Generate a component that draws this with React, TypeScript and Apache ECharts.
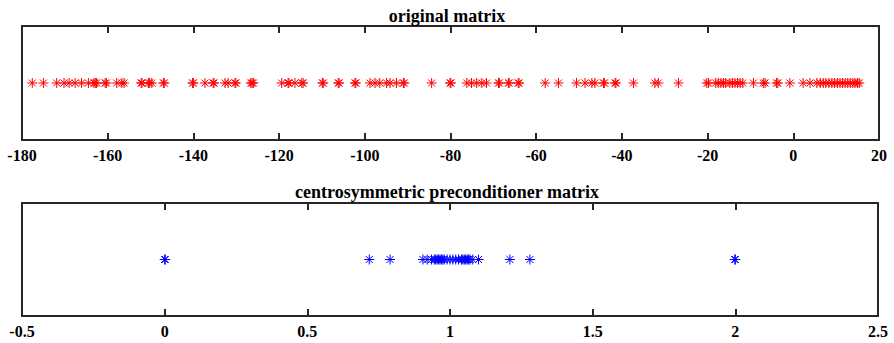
import React, { useEffect, useRef } from "react";
import * as echarts from "echarts";

const topTitle = "original matrix";
const bottomTitle = "centrosymmetric preconditioner matrix";

const originalEigs = [
  -177.6, -175.0, -171.9, -170.2, -169.0, -167.6, -166.1, -164.5, -163.2, -162.9, -162.6, -160.6, -160.3,
  -157.9, -156.7, -156.2, -152.2, -152.0, -150.5, -150.2, -149.7, -147.0, -146.8, -140.2, -140.0, -137.3,
  -135.4, -135.2, -132.6, -131.9, -130.3, -130.1, -126.6, -126.3, -126.0, -119.4, -117.9, -117.7, -116.3,
  -114.7, -114.4, -109.9, -109.7, -106.2, -106.0, -102.3, -102.1, -98.8, -97.6, -96.5, -94.9, -94.1, -92.6,
  -91.0, -90.8, -84.4, -80.1, -79.9, -76.2, -75.1, -73.9, -72.7, -71.6, -68.8, -68.6, -66.5, -66.3, -64.2,
  -64.0, -57.9, -54.8, -50.6, -48.6, -47.0, -46.3, -44.3, -44.1, -41.6, -41.4, -37.3, -32.3, -31.5, -26.8,
  -20.2, -19.8, -18.1, -17.5, -16.9, -16.3, -15.8, -14.8, -14.2, -13.6, -13.0, -12.4, -11.8, -9.3, -7.0,
  -6.6, -3.9, -3.6, -0.8, 2.3, 3.9, 5.5, 6.3, 7.0, 7.6, 8.3, 9.0, 9.6, 10.3, 10.9, 11.5, 12.1, 12.7, 13.3,
  13.9, 14.4, 15.0, 15.4,
];

const precondEigs = [
  0.0, 0.002, 0.717, 0.79, 0.905, 0.92, 0.935, 0.945, 0.95, 0.955, 0.96, 0.965, 0.97, 0.975, 0.98, 0.99,
  1.0, 1.01, 1.02, 1.03, 1.04, 1.045, 1.05, 1.055, 1.06, 1.065, 1.07, 1.08, 1.1, 1.21, 1.28, 1.998, 2.0,
];

const topXMin = -180;
const topXMax = 20;
const topXStep = 20;
const bottomXMin = -0.5;
const bottomXMax = 2.5;
const bottomXStep = 0.5;

const asterisk = "path://M0,5L10,5M5,0L5,10M1.5,1.5L8.5,8.5M1.5,8.5L8.5,1.5";
const axisColor = "#262626";
const font = "'Liberation Serif', 'Times New Roman', serif";

export default function App() {
  const ref = useRef<HTMLDivElement>(null);

  useEffect(() => {
    if (!ref.current) return;
    const chart = echarts.init(ref.current, undefined, { renderer: "svg" });

    const mkX = (gridIndex: number, min: number, max: number, interval: number, position: "top" | "bottom") => ({
      type: "value",
      gridIndex,
      min,
      max,
      interval,
      position,
      axisLine: { show: true, onZero: false, lineStyle: { color: axisColor, width: 2 } },
      splitLine: { show: false },
      axisTick: { show: true, inside: true, length: 7, lineStyle: { color: axisColor, width: 2 } },
      axisLabel: {
        show: position === "bottom",
        color: "#000",
        fontFamily: font,
        fontWeight: "bold",
        fontSize: 16,
        margin: 7,
        showMinLabel: true,
        showMaxLabel: true,
      },
    });

    const mkY = (gridIndex: number, position: "left" | "right") => ({
      type: "value",
      gridIndex,
      position,
      min: -1,
      max: 1,
      axisLine: { show: true, onZero: false, lineStyle: { color: axisColor, width: 2 } },
      axisTick: { show: false },
      axisLabel: { show: false },
      splitLine: { show: false },
    });

    const series = (data: number[], xAxisIndex: number, yAxisIndex: number, color: string) => ({
      type: "scatter",
      xAxisIndex,
      yAxisIndex,
      data: data.map((v) => [v, 0]),
      symbol: asterisk,
      symbolSize: 10,
      itemStyle: { color: "transparent", borderColor: color, borderWidth: 1, opacity: 1 },
      emphasis: { disabled: true },
      silent: true,
    });

    chart.setOption({
      animation: false,
      title: [
        {
          text: topTitle,
          left: "center",
          top: 2,
          textStyle: { fontFamily: font, fontWeight: "bold", fontSize: 18, color: "#000" },
        },
        {
          text: bottomTitle,
          left: "center",
          top: 178,
          textStyle: { fontFamily: font, fontWeight: "bold", fontSize: 18, color: "#000" },
        },
      ],
      grid: [
        { left: 22, right: 15, top: 26, height: 114 },
        { left: 22, right: 16, top: 203, height: 113 },
      ],
      xAxis: [
        mkX(0, topXMin, topXMax, topXStep, "bottom"),
        mkX(0, topXMin, topXMax, topXStep, "top"),
        mkX(1, bottomXMin, bottomXMax, bottomXStep, "bottom"),
        mkX(1, bottomXMin, bottomXMax, bottomXStep, "top"),
      ],
      yAxis: [mkY(0, "left"), mkY(0, "right"), mkY(1, "left"), mkY(1, "right")],
      series: [series(originalEigs, 0, 0, "#ff0000"), series(precondEigs, 2, 2, "#0000ff")],
    });

    return () => chart.dispose();
  }, []);

  return (
    <div
      ref={ref}
      style={{ position: "fixed", left: 0, top: 0, width: 894, height: 343, background: "#fff" }}
    />
  );
}
